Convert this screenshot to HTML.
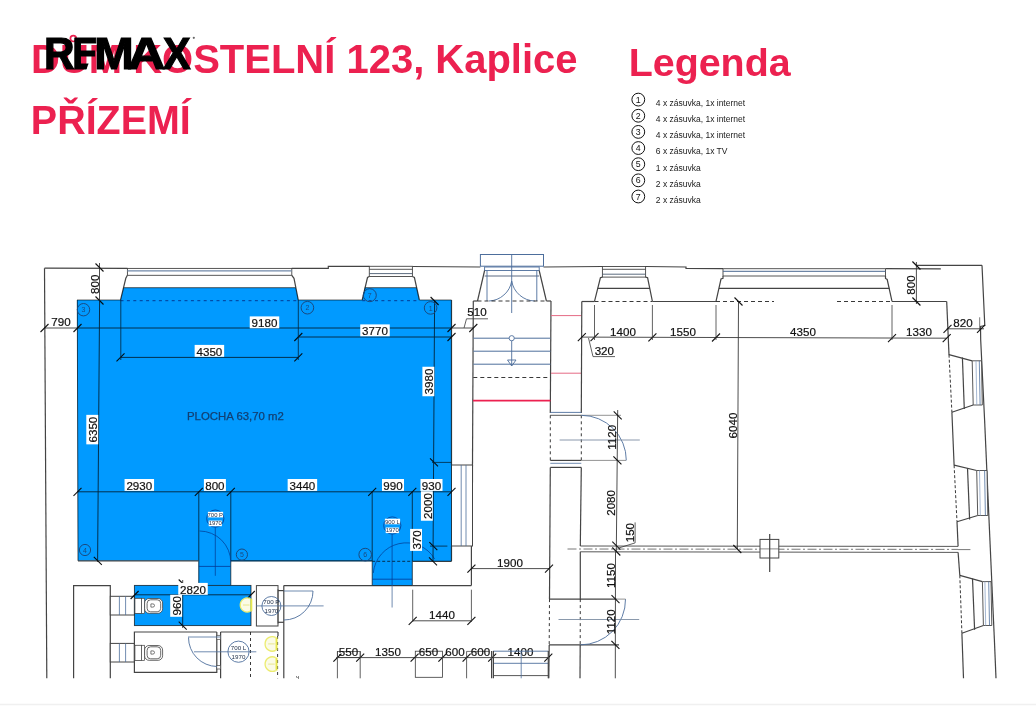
<!DOCTYPE html>
<html><head><meta charset="utf-8"><style>
html,body{margin:0;padding:0;background:#fff;}
svg{display:block;font-family:"Liberation Sans",sans-serif;}
</style></head><body>
<svg width="1036" height="708" viewBox="0 0 1036 708">
<rect width="1036" height="708" fill="#fff"/>
<text transform="translate(31.1,72.8) scale(0.973,1)" font-size="41.1" font-weight="bold" fill="#ec2150">DUM KOSTELNÍ 123, Kaplice</text>
<circle cx="73.3" cy="38.6" r="2.9" fill="none" stroke="#ec2150" stroke-width="1.7"/>
<text transform="translate(30.84,134) scale(0.972,1)" font-size="40.6" font-weight="bold" fill="#ec2150">PŘÍZEMÍ</text>
<text x="628.7" y="76.1" font-size="39.4" font-weight="bold" fill="#ec2150">Legenda</text>
<defs><clipPath id="ec"><polygon points="60,30 110,30 110,58.6 90.2,58.6 85.6,72 60,72"/></clipPath></defs>
<g><text transform="translate(44.0,69.0) scale(0.96,1)" font-size="44" font-weight="bold" fill="#000" stroke="#000" stroke-width="1.2">R</text></g>
<g clip-path="url(#ec)"><text transform="translate(72.36,69.0) scale(0.88,1)" font-size="44" font-weight="bold" fill="#000" stroke="#000" stroke-width="1.2">E</text></g>
<g><text transform="translate(94.37,69.0) scale(1.077,1)" font-size="44" font-weight="bold" fill="#000" stroke="#000" stroke-width="1.2">M</text></g>
<g><text transform="translate(127.4,69.0) scale(1.19,1)" font-size="44" font-weight="bold" fill="#000" stroke="#000" stroke-width="1.2">A</text></g>
<g><text transform="translate(162.96,69.0) scale(0.94,1)" font-size="44" font-weight="bold" fill="#000" stroke="#000" stroke-width="1.2">X</text></g>
<circle cx="193.8" cy="37.8" r="1.1" fill="#666"/>
<circle cx="638.3" cy="99.60" r="6.4" stroke="#111" stroke-width="1" fill="none"/>
<text x="638.3" y="102.70" font-size="8.8" fill="#111" text-anchor="middle">1</text>
<text x="655.8" y="105.90" font-size="8.5" fill="#1a1a1a">4 x zásuvka, 1x internet</text>
<circle cx="638.3" cy="115.75" r="6.4" stroke="#111" stroke-width="1" fill="none"/>
<text x="638.3" y="118.85" font-size="8.8" fill="#111" text-anchor="middle">2</text>
<text x="655.8" y="122.05" font-size="8.5" fill="#1a1a1a">4 x zásuvka, 1x internet</text>
<circle cx="638.3" cy="131.90" r="6.4" stroke="#111" stroke-width="1" fill="none"/>
<text x="638.3" y="135.00" font-size="8.8" fill="#111" text-anchor="middle">3</text>
<text x="655.8" y="138.20" font-size="8.5" fill="#1a1a1a">4 x zásuvka, 1x internet</text>
<circle cx="638.3" cy="148.05" r="6.4" stroke="#111" stroke-width="1" fill="none"/>
<text x="638.3" y="151.15" font-size="8.8" fill="#111" text-anchor="middle">4</text>
<text x="655.8" y="154.35" font-size="8.5" fill="#1a1a1a">6 x zásuvka, 1x TV</text>
<circle cx="638.3" cy="164.20" r="6.4" stroke="#111" stroke-width="1" fill="none"/>
<text x="638.3" y="167.30" font-size="8.8" fill="#111" text-anchor="middle">5</text>
<text x="655.8" y="170.50" font-size="8.5" fill="#1a1a1a">1 x zásuvka</text>
<circle cx="638.3" cy="180.35" r="6.4" stroke="#111" stroke-width="1" fill="none"/>
<text x="638.3" y="183.45" font-size="8.8" fill="#111" text-anchor="middle">6</text>
<text x="655.8" y="186.65" font-size="8.5" fill="#1a1a1a">2 x zásuvka</text>
<circle cx="638.3" cy="196.50" r="6.4" stroke="#111" stroke-width="1" fill="none"/>
<text x="638.3" y="199.60" font-size="8.8" fill="#111" text-anchor="middle">7</text>
<text x="655.8" y="202.80" font-size="8.5" fill="#1a1a1a">2 x zásuvka</text>
<g>
<polyline points="44.5,268.2 127.4,268.4" stroke="#444" stroke-width="1.2" fill="none" />
<polyline points="291.8,268.4 328.3,268.3 328.3,266.4 369.3,266.3" stroke="#444" stroke-width="1.2" fill="none" />
<polyline points="412.4,266.5 480.4,267" stroke="#444" stroke-width="1.2" fill="none" />
<polyline points="543.5,267 602.4,266.5" stroke="#444" stroke-width="1.2" fill="none" />
<polyline points="645.6,266.5 686,267 686,268.5 723,268.7" stroke="#444" stroke-width="1.2" fill="none" />
<polyline points="885.5,268.7 940.8,268.9" stroke="#444" stroke-width="1.2" fill="none" />
<line x1="44.5" y1="268.2" x2="46.8" y2="678.3" stroke="#444" stroke-width="1.2" />
<rect x="127.4" y="268.4" width="164.4" height="6.9" fill="#fff" stroke="#444" stroke-width="0.9"/>
<line x1="127.4" y1="270.9" x2="291.8" y2="270.9" stroke="#7088a8" stroke-width="1.4" />
<rect x="369.3" y="266.3" width="43.1" height="10.2" fill="#fff" stroke="#444" stroke-width="0.9"/>
<line x1="369.3" y1="269.3" x2="412.4" y2="269.3" stroke="#444" stroke-width="0.9" />
<line x1="369.3" y1="273.6" x2="412.4" y2="273.6" stroke="#4a5a70" stroke-width="0.9" />
<rect x="602.4" y="266.5" width="43.2" height="10.6" fill="#fff" stroke="#444" stroke-width="0.9"/>
<line x1="602.4" y1="269.3" x2="645.6" y2="269.3" stroke="#444" stroke-width="0.9" />
<line x1="602.4" y1="274.2" x2="645.6" y2="274.2" stroke="#4a5a70" stroke-width="0.9" />
<rect x="723" y="268.7" width="162.5" height="7.3" fill="#fff" stroke="#444" stroke-width="0.9"/>
<line x1="723" y1="271.3" x2="885.5" y2="271.3" stroke="#4a6890" stroke-width="1.0" />
<polyline points="127.4,275.3 125.8,278.3 120.5,300.2" stroke="#444" stroke-width="1.2" fill="none" />
<polyline points="291.8,275.3 294,278.3 298.3,300.2" stroke="#444" stroke-width="1.2" fill="none" />
<polyline points="369.3,276.5 367.5,277.5 362.2,300" stroke="#444" stroke-width="1.2" fill="none" />
<polyline points="412.4,276.5 414.4,277.5 419.4,300" stroke="#444" stroke-width="1.2" fill="none" />
<polyline points="602.4,277.1 600.4,277.8 594.5,301.3" stroke="#444" stroke-width="1.2" fill="none" />
<polyline points="645.6,277.1 647.6,277.8 652.4,301.3" stroke="#444" stroke-width="1.2" fill="none" />
<polyline points="723,276 723,278.3 721,279 716,301.3" stroke="#444" stroke-width="1.2" fill="none" />
<polyline points="885.5,276 885.5,278.5 887.2,279.5 892,301.3" stroke="#444" stroke-width="1.2" fill="none" />
<line x1="597.5" y1="288.3" x2="650" y2="288.3" stroke="#444" stroke-width="1.2" />
<line x1="719" y1="288.3" x2="889.5" y2="288.3" stroke="#444" stroke-width="1.2" />
<line x1="120.5" y1="300.7" x2="298.3" y2="300.7" stroke="#1a4f8a" stroke-width="0.9" stroke-dasharray="3,3.4"/>
<line x1="362.2" y1="300.7" x2="419.4" y2="300.7" stroke="#1a4f8a" stroke-width="0.9" stroke-dasharray="3,3.4"/>
<line x1="123.5" y1="287.7" x2="295.8" y2="287.7" stroke="#333" stroke-width="0.8" />
<line x1="364.8" y1="287.7" x2="416.7" y2="287.7" stroke="#333" stroke-width="0.8" />
<line x1="594.5" y1="301.5" x2="652.4" y2="301.5" stroke="#222" stroke-width="0.9" stroke-dasharray="4,3"/>
<line x1="716" y1="301.5" x2="774" y2="301.5" stroke="#222" stroke-width="0.9" stroke-dasharray="4,3"/>
<line x1="837" y1="301.5" x2="892" y2="301.5" stroke="#222" stroke-width="0.9" stroke-dasharray="4,3"/>
<line x1="298.3" y1="300" x2="362.2" y2="300" stroke="#444" stroke-width="0.8" />
<line x1="419.4" y1="300" x2="451.5" y2="300" stroke="#444" stroke-width="0.8" />
<line x1="77" y1="300" x2="120.5" y2="300" stroke="#444" stroke-width="0.8" />
<line x1="77.3" y1="300" x2="78" y2="560.8" stroke="#444" stroke-width="0.9" />
<line x1="451.5" y1="300" x2="451.5" y2="465" stroke="#444" stroke-width="1.2" />
<line x1="78" y1="560.8" x2="198.5" y2="560.8" stroke="#444" stroke-width="1.2" />
<line x1="230.8" y1="560.8" x2="372.2" y2="560.8" stroke="#444" stroke-width="1.2" />
<line x1="412.3" y1="561.3" x2="451.5" y2="561.3" stroke="#444" stroke-width="1.2" />
<line x1="451.5" y1="546" x2="451.5" y2="561.3" stroke="#444" stroke-width="1.2" />
<rect x="480.4" y="254.5" width="63.1" height="11.7" fill="#fff" stroke="#4d6e9c" stroke-width="1"/>
<rect x="484.6" y="267" width="54.6" height="3.5" fill="#fff" stroke="#4d6e9c" stroke-width="0.9"/>
<line x1="484.6" y1="276" x2="539.2" y2="276" stroke="#4a5a75" stroke-width="0.9" />
<line x1="487" y1="270.5" x2="487" y2="301" stroke="#4d6e9c" stroke-width="0.9" />
<line x1="536.8" y1="270.5" x2="536.8" y2="301" stroke="#4d6e9c" stroke-width="0.9" />
<line x1="511.7" y1="254.5" x2="511.7" y2="313" stroke="#4d6e9c" stroke-width="0.9" />
<path d="M489,301 A24,24 0 0 0 511.7,281" stroke="#4d6e9c" stroke-width="0.9" fill="none" />
<path d="M534.8,301 A24,24 0 0 1 511.7,281" stroke="#4d6e9c" stroke-width="0.9" fill="none" />
<line x1="484.6" y1="270.5" x2="477.5" y2="301" stroke="#444" stroke-width="1.2" />
<line x1="539.2" y1="270.5" x2="546.4" y2="301" stroke="#444" stroke-width="1.2" />
<line x1="477.5" y1="301" x2="546.4" y2="301" stroke="#222" stroke-width="0.9" stroke-dasharray="4,3"/>
<line x1="473.3" y1="301" x2="477.5" y2="301" stroke="#444" stroke-width="1.2" />
<line x1="546.4" y1="301" x2="551" y2="301" stroke="#444" stroke-width="1.2" />
<line x1="473.3" y1="301" x2="472.5" y2="465" stroke="#444" stroke-width="1.2" />
<line x1="551" y1="301" x2="550.3" y2="413" stroke="#444" stroke-width="1.2" />
<line x1="473.3" y1="338.2" x2="550.5" y2="338.2" stroke="#4d6e9c" stroke-width="1" />
<line x1="473.3" y1="351.2" x2="550.5" y2="351.2" stroke="#4d6e9c" stroke-width="1" />
<line x1="473.3" y1="364.2" x2="550.5" y2="364.2" stroke="#4d6e9c" stroke-width="1" />
<circle cx="511.7" cy="338.2" r="2.6" stroke="#4d6e9c" stroke-width="0.9" fill="#fff"/>
<line x1="511.7" y1="340.8" x2="511.7" y2="366" stroke="#4d6e9c" stroke-width="0.9" />
<polyline points="507.5,360 516,360 511.7,366 507.5,360" stroke="#4d6e9c" stroke-width="0.9" fill="none" />
<line x1="473.3" y1="377.5" x2="550.5" y2="377.5" stroke="#222" stroke-width="0.9" stroke-dasharray="4,3"/>
<line x1="473" y1="400.6" x2="550.5" y2="400.6" stroke="#ec2150" stroke-width="1.6" />
<line x1="551" y1="315.6" x2="581.5" y2="315.6" stroke="#e56a85" stroke-width="1" />
<line x1="551" y1="373.2" x2="581.5" y2="373.2" stroke="#e56a85" stroke-width="1" />
<line x1="472.5" y1="465" x2="472.2" y2="546" stroke="#444" stroke-width="1.2" />
<line x1="581.8" y1="301.5" x2="581.3" y2="413" stroke="#444" stroke-width="1.2" />
<line x1="550.3" y1="412.4" x2="581.3" y2="412.4" stroke="#4d6e9c" stroke-width="0.9" />
<line x1="550.3" y1="415.3" x2="581.3" y2="415.3" stroke="#444" stroke-width="0.9" />
<line x1="550.3" y1="415.3" x2="550.3" y2="460.4" stroke="#222" stroke-width="0.9" stroke-dasharray="3,3"/>
<line x1="581.3" y1="415.3" x2="581.3" y2="460.4" stroke="#222" stroke-width="0.9" stroke-dasharray="3,3"/>
<line x1="550.3" y1="460.4" x2="581.3" y2="460.4" stroke="#444" stroke-width="1.2" />
<line x1="550.3" y1="463.3" x2="581.3" y2="463.3" stroke="#4d6e9c" stroke-width="0.8" />
<line x1="550.3" y1="467.4" x2="581.3" y2="467.4" stroke="#444" stroke-width="1.2" />
<line x1="581.3" y1="415.3" x2="621" y2="415.3" stroke="#777" stroke-width="0.8" />
<line x1="581.3" y1="460.4" x2="626" y2="460.4" stroke="#777" stroke-width="0.8" />
<path d="M581.3,415.3 A45,45 0 0 1 626.3,460.4" stroke="#4d6e9c" stroke-width="0.9" fill="none" />
<line x1="559.6" y1="440" x2="639.8" y2="440" stroke="#7d8da3" stroke-width="0.9" />
<line x1="550.3" y1="467.4" x2="549.5" y2="599.1" stroke="#444" stroke-width="1.2" />
<line x1="581.3" y1="467.4" x2="580.3" y2="546" stroke="#444" stroke-width="1.2" />
<line x1="581.8" y1="301.5" x2="594.5" y2="301.5" stroke="#444" stroke-width="1.2" />
<line x1="652.4" y1="301.5" x2="716" y2="301.5" stroke="#444" stroke-width="1.2" />
<line x1="892" y1="301.5" x2="946.7" y2="301.5" stroke="#444" stroke-width="1.2" />
<line x1="946.7" y1="301.5" x2="949" y2="354.9" stroke="#444" stroke-width="1.2" />
<line x1="580.3" y1="546" x2="958.1" y2="546.4" stroke="#444" stroke-width="0.9" />
<line x1="580.3" y1="551.8" x2="958.1" y2="552.4" stroke="#444" stroke-width="0.9" />
<line x1="567.5" y1="549" x2="958" y2="549.4" stroke="#555" stroke-width="0.8" stroke-dasharray="9,2.5,2,2.5"/>
<line x1="958" y1="549.6" x2="970.4" y2="549.6" stroke="#555" stroke-width="0.8" />
<rect x="760" y="539.4" width="18.8" height="18.6" fill="#fff" stroke="#444" stroke-width="1" />
<line x1="760" y1="548.9" x2="778.8" y2="548.9" stroke="#555" stroke-width="0.7" />
<line x1="769.7" y1="534" x2="769.7" y2="572" stroke="#444" stroke-width="1.2" />
<line x1="916.4" y1="265.3" x2="982" y2="265.3" stroke="#444" stroke-width="1.2" />
<polyline points="982,265.3 984.8,325.6 980.5,326.5 980.7,340 984.6,420" stroke="#444" stroke-width="1.2" fill="none" />
<line x1="984.6" y1="420" x2="989.7" y2="535" stroke="#444" stroke-width="1.2" />
<line x1="989.7" y1="535" x2="994.4" y2="640" stroke="#444" stroke-width="1.2" />
<line x1="994.4" y1="640" x2="996" y2="678.3" stroke="#444" stroke-width="1.2" />
<line x1="979.7" y1="317.3" x2="979.7" y2="330" stroke="#555" stroke-width="0.8" />
<line x1="949" y1="354.7" x2="949" y2="354.7" stroke="#444" stroke-width="1.2" />
<line x1="949" y1="354.7" x2="972.2" y2="360.8" stroke="#444" stroke-width="1.2" />
<line x1="951.9" y1="412.3" x2="973.2" y2="405" stroke="#444" stroke-width="1.2" />
<polygon points="972.2,360.8 981.5,360.8 982.3,405 973.2,405" fill="#fff" stroke="#444" stroke-width="0.9"/>
<line x1="976" y1="360.8" x2="976.8" y2="405" stroke="#8fa6c6" stroke-width="0.8" />
<line x1="979.3" y1="360.8" x2="980.1" y2="405" stroke="#4d6e9c" stroke-width="0.8" />
<line x1="962.4" y1="357.5" x2="964.3" y2="408.9" stroke="#444" stroke-width="1.2" />
<line x1="949" y1="354.7" x2="951.9" y2="412.3" stroke="#222" stroke-width="0.9" stroke-dasharray="3,2"/>
<line x1="951.9" y1="412.3" x2="954.1" y2="465.2" stroke="#444" stroke-width="1.2" />
<line x1="954.1" y1="465.2" x2="976.7" y2="470.5" stroke="#444" stroke-width="1.2" />
<line x1="957" y1="521.7" x2="977.7" y2="515.5" stroke="#444" stroke-width="1.2" />
<polygon points="976.7,470.5 987,470.5 987.8,515.5 977.7,515.5" fill="#fff" stroke="#444" stroke-width="0.9"/>
<line x1="979.5" y1="470.5" x2="980.3" y2="515.5" stroke="#8fa6c6" stroke-width="0.8" />
<line x1="984.6" y1="470.5" x2="985.4" y2="515.5" stroke="#4d6e9c" stroke-width="0.8" />
<line x1="967.5" y1="468" x2="969.6" y2="519.4" stroke="#444" stroke-width="1.2" />
<line x1="954.1" y1="465.2" x2="957" y2="521.7" stroke="#222" stroke-width="0.9" stroke-dasharray="3,2"/>
<line x1="957" y1="521.7" x2="958.1" y2="546.4" stroke="#444" stroke-width="1.2" />
<line x1="958.1" y1="552.4" x2="959.8" y2="575.3" stroke="#444" stroke-width="1.2" />
<line x1="959.8" y1="575.3" x2="982.4" y2="581.6" stroke="#444" stroke-width="1.2" />
<line x1="961.9" y1="633.2" x2="983.4" y2="625.5" stroke="#444" stroke-width="1.2" />
<polygon points="982.4,581.6 991,581.6 991.8,625.5 983.4,625.5" fill="#fff" stroke="#444" stroke-width="0.9"/>
<line x1="984.9" y1="581.6" x2="985.7" y2="625.5" stroke="#8fa6c6" stroke-width="0.8" />
<line x1="988.7" y1="581.6" x2="989.5" y2="625.5" stroke="#4d6e9c" stroke-width="0.8" />
<line x1="972.5" y1="578.5" x2="974.6" y2="629.7" stroke="#444" stroke-width="1.2" />
<line x1="959.8" y1="575.3" x2="961.9" y2="633.2" stroke="#222" stroke-width="0.9" stroke-dasharray="3,2"/>
<line x1="961.9" y1="633.2" x2="963.5" y2="678.3" stroke="#444" stroke-width="1.2" />
<line x1="580.3" y1="551.8" x2="580.3" y2="599.1" stroke="#444" stroke-width="1.2" />
<line x1="549.5" y1="599.1" x2="616.7" y2="599.1" stroke="#444" stroke-width="1.2" />
<line x1="549" y1="644.9" x2="619" y2="644.9" stroke="#444" stroke-width="1.2" />
<line x1="549.5" y1="599.1" x2="549.2" y2="644.9" stroke="#222" stroke-width="0.9" stroke-dasharray="3,3"/>
<line x1="580.3" y1="599.1" x2="580.2" y2="644.9" stroke="#222" stroke-width="0.9" stroke-dasharray="3,3"/>
<path d="M625.5,599.1 A45.3,45.3 0 0 1 580.2,644.9" stroke="#4d6e9c" stroke-width="0.9" fill="none" />
<line x1="616.7" y1="599.1" x2="625.5" y2="599.1" stroke="#777" stroke-width="0.8" />
<line x1="558.5" y1="619.5" x2="639.2" y2="619.5" stroke="#7d8da3" stroke-width="0.9" />
<line x1="549.2" y1="644.9" x2="548.8" y2="678.3" stroke="#444" stroke-width="1.2" />
<line x1="580.2" y1="644.9" x2="580" y2="678.3" stroke="#444" stroke-width="1.2" />
<rect x="451.5" y="465" width="21" height="81" fill="#fff" stroke="#444" stroke-width="1" />
<line x1="461.2" y1="465" x2="461.2" y2="546" stroke="#4d6e9c" stroke-width="0.8" />
<line x1="466" y1="465" x2="466" y2="546" stroke="#4d6e9c" stroke-width="0.8" />
<line x1="283.8" y1="585.6" x2="471.4" y2="585.6" stroke="#444" stroke-width="1.2" />
<line x1="471.4" y1="546" x2="471.4" y2="585.6" stroke="#444" stroke-width="1.2" />
<line x1="283.8" y1="585.6" x2="283.8" y2="678.3" stroke="#444" stroke-width="1.2" />
<polyline points="73.6,678.3 73.6,585.6 110.3,585.6 110.3,678.3" stroke="#444" stroke-width="1.2" fill="none" />
<rect x="110.3" y="596.3" width="24.1" height="18.7" fill="#fff" stroke="#444" stroke-width="1" />
<line x1="119.4" y1="596.3" x2="119.4" y2="615" stroke="#4d6e9c" stroke-width="0.8" />
<line x1="125.6" y1="596.3" x2="125.6" y2="615" stroke="#4d6e9c" stroke-width="0.8" />
<rect x="110.3" y="643.4" width="24.1" height="18.6" fill="#fff" stroke="#444" stroke-width="1" />
<line x1="119.4" y1="643.4" x2="119.4" y2="662" stroke="#4d6e9c" stroke-width="0.8" />
<line x1="125.6" y1="643.4" x2="125.6" y2="662" stroke="#4d6e9c" stroke-width="0.8" />
<rect x="134.4" y="585.4" width="116.6" height="40.2" fill="none" stroke="#444" stroke-width="0.9" />
<polyline points="216.8,632 134.4,632 134.4,672.3 216.8,672.3 216.8,632" stroke="#444" stroke-width="1.2" fill="none" />
<line x1="220.6" y1="632" x2="220.6" y2="678.3" stroke="#444" stroke-width="1.2" />
<line x1="220.6" y1="632" x2="278" y2="632" stroke="#444" stroke-width="1.2" />
<line x1="277.6" y1="636" x2="277.6" y2="678.3" stroke="#222" stroke-width="0.9" stroke-dasharray="3,3"/>
<line x1="278" y1="632" x2="278" y2="636" stroke="#444" stroke-width="1.2" />
<line x1="250.5" y1="632" x2="250.5" y2="678.3" stroke="#222" stroke-width="0.9" stroke-dasharray="3,3"/>
<rect x="216.8" y="635.3" width="3.8" height="4" fill="#fff" stroke="#444" stroke-width="0.7" />
<rect x="216.8" y="665.5" width="3.8" height="3.5" fill="#fff" stroke="#444" stroke-width="0.7" />
<rect x="134.9" y="645.3" width="6.6" height="15.1" fill="#fff" stroke="#444" stroke-width="0.8" />
<rect x="141.5" y="645.3" width="3.1" height="15.1" fill="#fff" stroke="#444" stroke-width="0.7" />
<rect x="144.6" y="645.5" width="18" height="14.8" rx="4.5" fill="#fff" stroke="#444" stroke-width="0.8"/>
<rect x="147.1" y="646.8" width="13.6" height="12" rx="3.5" fill="none" stroke="#444" stroke-width="0.8"/>
<path d="M150.9,650.9 h2 a1.6,1.6 0 0 1 0,3.2 h-2 z" fill="none" stroke="#444" stroke-width="0.7"/>
<line x1="188" y1="637" x2="220.6" y2="637" stroke="#4d6e9c" stroke-width="0.8" />
<path d="M188.5,637.5 A29,29 0 0 0 217,666.5" stroke="#4d6e9c" stroke-width="0.9" fill="none" />
<line x1="194" y1="651.8" x2="256.3" y2="651.8" stroke="#4d6e9c" stroke-width="0.8" />
<path d="M275.7,637.4 A7.3,7.3 0 1 0 275.7,650.4" fill="#fbfbe6" stroke="#ecec70" stroke-width="1.3"/>
<rect x="275.5" y="637.4" width="2" height="13" fill="#e8e850"/>
<line x1="268.2" y1="643.9" x2="274.7" y2="643.9" stroke="#e2e27a" stroke-width="0.8" />
<path d="M275.7,657.6 A7.3,7.3 0 1 0 275.7,670.6" fill="#fbfbe6" stroke="#ecec70" stroke-width="1.3"/>
<rect x="275.5" y="657.6" width="2" height="13" fill="#e8e850"/>
<line x1="268.2" y1="664.1" x2="274.7" y2="664.1" stroke="#e2e27a" stroke-width="0.8" />
<rect x="256.4" y="585.6" width="21.6" height="40.4" fill="#fff" stroke="#444" stroke-width="1" />
<line x1="278" y1="590.6" x2="283.8" y2="590.6" stroke="#444" stroke-width="1.2" />
<line x1="278" y1="622.3" x2="283.8" y2="622.3" stroke="#444" stroke-width="1.2" />
<line x1="278" y1="589.3" x2="278" y2="623.5" stroke="#444" stroke-width="0.9" />
<line x1="283.8" y1="591" x2="313" y2="591" stroke="#4d6e9c" stroke-width="0.8" />
<path d="M313,591 A29,29 0 0 1 283.8,620" stroke="#4d6e9c" stroke-width="0.9" fill="none" />
<line x1="256" y1="605.9" x2="323.6" y2="605.9" stroke="#4d6e9c" stroke-width="0.8" />
<circle cx="271.4" cy="606" r="9.5" stroke="#4d6e9c" stroke-width="0.9" fill="none"/>
<circle cx="238.5" cy="651.7" r="10.6" stroke="#4d6e9c" stroke-width="0.9" fill="none"/>
<circle cx="215.3" cy="518.6" r="8.6" stroke="#4d6e9c" stroke-width="0.9" fill="none"/>
<circle cx="392.3" cy="525.5" r="8.6" stroke="#4d6e9c" stroke-width="0.9" fill="none"/>
<line x1="198.8" y1="491.5" x2="198.8" y2="585.4" stroke="#444" stroke-width="0.9" />
<line x1="230.8" y1="491.5" x2="230.8" y2="585.4" stroke="#444" stroke-width="0.9" />
<line x1="215.3" y1="527.2" x2="215.3" y2="575.8" stroke="#4d6e9c" stroke-width="0.8" />
<path d="M199.5,531 A31.3,31.3 0 0 1 230.8,562.3" stroke="#4d6e9c" stroke-width="0.8" fill="none" />
<line x1="198.8" y1="566.4" x2="230.8" y2="566.4" stroke="#2b5f97" stroke-width="0.8" />
<line x1="372.2" y1="491.5" x2="372.2" y2="585.4" stroke="#444" stroke-width="0.9" />
<line x1="412.3" y1="491.5" x2="412.3" y2="585.4" stroke="#444" stroke-width="0.9" />
<line x1="392.1" y1="534" x2="392.1" y2="607.5" stroke="#4d6e9c" stroke-width="0.8" />
<path d="M373.3,573 A33.1,33.1 0 0 1 434.7,559" stroke="#4d6e9c" stroke-width="0.8" fill="none" />
<line x1="372.2" y1="561.3" x2="412.3" y2="561.3" stroke="#222" stroke-width="0.8" stroke-dasharray="3,2"/>
<line x1="372.2" y1="579.2" x2="412.3" y2="579.2" stroke="#2b5f97" stroke-width="0.8" />
<line x1="99.5" y1="263" x2="99.5" y2="300" stroke="#3a3a3a" stroke-width="0.9" />
<line x1="95.5" y1="263.5" x2="103.5" y2="271.5" stroke="#111" stroke-width="1.1" />
<line x1="95.5" y1="296.5" x2="103.5" y2="304.5" stroke="#111" stroke-width="1.1" />
<line x1="44" y1="328" x2="473.3" y2="328" stroke="#3a3a3a" stroke-width="0.9" />
<line x1="40.5" y1="332" x2="48.5" y2="324" stroke="#111" stroke-width="1.1" />
<line x1="73.5" y1="332" x2="81.5" y2="324" stroke="#111" stroke-width="1.1" />
<line x1="447.5" y1="332" x2="455.5" y2="324" stroke="#111" stroke-width="1.1" />
<line x1="469.3" y1="332" x2="477.3" y2="324" stroke="#111" stroke-width="1.1" />
<text x="61" y="325.5" font-size="11.6" fill="#111" text-anchor="middle" font-weight="normal" stroke="#111" stroke-width="0.2">790</text>
<text x="477" y="315.6" font-size="11.6" fill="#111" text-anchor="middle" font-weight="normal" stroke="#111" stroke-width="0.2">510</text>
<polyline points="464,328 466.5,318.8 488,318.8" stroke="#3a3a3a" stroke-width="0.8" fill="none" />
<line x1="298.3" y1="337" x2="451.5" y2="337" stroke="#3a3a3a" stroke-width="0.9" />
<line x1="294.3" y1="341" x2="302.3" y2="333" stroke="#111" stroke-width="1.1" />
<line x1="447.5" y1="341" x2="455.5" y2="333" stroke="#111" stroke-width="1.1" />
<line x1="120.5" y1="357.4" x2="298.3" y2="357.4" stroke="#3a3a3a" stroke-width="0.9" />
<line x1="116.5" y1="361.4" x2="124.5" y2="353.4" stroke="#111" stroke-width="1.1" />
<line x1="294.3" y1="361.4" x2="302.3" y2="353.4" stroke="#111" stroke-width="1.1" />
<line x1="120.8" y1="300" x2="120.8" y2="360" stroke="#3a3a3a" stroke-width="0.8" />
<line x1="298.3" y1="300" x2="298.3" y2="360" stroke="#3a3a3a" stroke-width="0.8" />
<line x1="99.6" y1="300" x2="97.6" y2="562" stroke="#3a3a3a" stroke-width="0.9" />
<line x1="93.8" y1="556.8" x2="101.8" y2="564.8" stroke="#111" stroke-width="1.1" />
<line x1="434.6" y1="300" x2="433" y2="562" stroke="#3a3a3a" stroke-width="0.9" />
<line x1="430.6" y1="297" x2="438.6" y2="305" stroke="#111" stroke-width="1.1" />
<line x1="430" y1="458.4" x2="438" y2="466.4" stroke="#111" stroke-width="1.1" />
<line x1="429.3" y1="542.2" x2="437.3" y2="550.2" stroke="#111" stroke-width="1.1" />
<line x1="429" y1="557.3" x2="437" y2="565.3" stroke="#111" stroke-width="1.1" />
<line x1="432" y1="462.4" x2="451.5" y2="462.4" stroke="#3a3a3a" stroke-width="0.8" />
<line x1="430" y1="546.1" x2="447.4" y2="546.1" stroke="#3a3a3a" stroke-width="0.8" />
<line x1="77" y1="491.8" x2="451.5" y2="491.8" stroke="#3a3a3a" stroke-width="0.9" />
<line x1="73.5" y1="495.8" x2="81.5" y2="487.8" stroke="#111" stroke-width="1.1" />
<line x1="194.8" y1="495.8" x2="202.8" y2="487.8" stroke="#111" stroke-width="1.1" />
<line x1="226.8" y1="495.8" x2="234.8" y2="487.8" stroke="#111" stroke-width="1.1" />
<line x1="368.2" y1="495.8" x2="376.2" y2="487.8" stroke="#111" stroke-width="1.1" />
<line x1="408.3" y1="495.8" x2="416.3" y2="487.8" stroke="#111" stroke-width="1.1" />
<line x1="447.5" y1="495.8" x2="455.5" y2="487.8" stroke="#111" stroke-width="1.1" />
<line x1="134.4" y1="594.8" x2="251" y2="594.8" stroke="#3a3a3a" stroke-width="0.9" />
<line x1="130.6" y1="599" x2="138.6" y2="591" stroke="#111" stroke-width="1.1" />
<line x1="246.8" y1="599" x2="254.8" y2="591" stroke="#111" stroke-width="1.1" />
<line x1="182.7" y1="580" x2="182.7" y2="628" stroke="#3a3a3a" stroke-width="0.9" />
<line x1="178.7" y1="579.5" x2="186.7" y2="587.5" stroke="#111" stroke-width="1.1" />
<line x1="178.7" y1="621.6" x2="186.7" y2="629.6" stroke="#111" stroke-width="1.1" />
<line x1="581.8" y1="337.1" x2="946.7" y2="338.2" stroke="#3a3a3a" stroke-width="0.9" />
<line x1="577.8" y1="341.1" x2="585.8" y2="333.1" stroke="#111" stroke-width="1.1" />
<line x1="590.5" y1="341.14" x2="598.5" y2="333.14" stroke="#111" stroke-width="1.1" />
<line x1="648.4" y1="341.31" x2="656.4" y2="333.31" stroke="#111" stroke-width="1.1" />
<line x1="712" y1="341.5" x2="720" y2="333.5" stroke="#111" stroke-width="1.1" />
<line x1="888" y1="342.03" x2="896" y2="334.03" stroke="#111" stroke-width="1.1" />
<line x1="942.7" y1="342.2" x2="950.7" y2="334.2" stroke="#111" stroke-width="1.1" />
<line x1="594.5" y1="305" x2="594.5" y2="340" stroke="#3a3a3a" stroke-width="0.8" />
<line x1="652.4" y1="305" x2="652.4" y2="340" stroke="#3a3a3a" stroke-width="0.8" />
<line x1="716" y1="305" x2="716" y2="340" stroke="#3a3a3a" stroke-width="0.8" />
<line x1="892" y1="305" x2="892" y2="340" stroke="#3a3a3a" stroke-width="0.8" />
<text x="623" y="336.2" font-size="11.6" fill="#111" text-anchor="middle" font-weight="normal" stroke="#111" stroke-width="0.2">1400</text>
<text x="683" y="336.2" font-size="11.6" fill="#111" text-anchor="middle" font-weight="normal" stroke="#111" stroke-width="0.2">1550</text>
<text x="803" y="336.2" font-size="11.6" fill="#111" text-anchor="middle" font-weight="normal" stroke="#111" stroke-width="0.2">4350</text>
<text x="919" y="336.2" font-size="11.6" fill="#111" text-anchor="middle" font-weight="normal" stroke="#111" stroke-width="0.2">1330</text>
<text x="604.3" y="355" font-size="11.6" fill="#111" text-anchor="middle" font-weight="normal" stroke="#111" stroke-width="0.2">320</text>
<polyline points="588.5,338 593,356.6 615,356.6" stroke="#3a3a3a" stroke-width="0.8" fill="none" />
<line x1="946.7" y1="328.8" x2="984" y2="328.8" stroke="#3a3a3a" stroke-width="0.9" />
<line x1="943.5" y1="332.8" x2="951.5" y2="324.8" stroke="#111" stroke-width="1.1" />
<line x1="977" y1="332.8" x2="985" y2="324.8" stroke="#111" stroke-width="1.1" />
<text x="963" y="327" font-size="11.6" fill="#111" text-anchor="middle" font-weight="normal" stroke="#111" stroke-width="0.2">820</text>
<line x1="916.4" y1="262" x2="916.4" y2="304" stroke="#3a3a3a" stroke-width="0.9" />
<line x1="912.4" y1="261.5" x2="920.4" y2="269.5" stroke="#111" stroke-width="1.1" />
<line x1="912.4" y1="297.5" x2="920.4" y2="305.5" stroke="#111" stroke-width="1.1" />
<line x1="738.5" y1="301.5" x2="737.3" y2="549" stroke="#3a3a3a" stroke-width="0.9" />
<line x1="734.5" y1="297.5" x2="742.5" y2="305.5" stroke="#111" stroke-width="1.1" />
<line x1="733.3" y1="545" x2="741.3" y2="553" stroke="#111" stroke-width="1.1" />
<line x1="617.7" y1="410" x2="616.3" y2="552" stroke="#3a3a3a" stroke-width="0.9" />
<line x1="613.7" y1="411.3" x2="621.7" y2="419.3" stroke="#111" stroke-width="1.1" />
<line x1="613.4" y1="456.4" x2="621.4" y2="464.4" stroke="#111" stroke-width="1.1" />
<line x1="612.3" y1="541.6" x2="620.3" y2="549.6" stroke="#111" stroke-width="1.1" />
<line x1="612.3" y1="547.5" x2="620.3" y2="555.5" stroke="#111" stroke-width="1.1" />
<polyline points="618.7,548 635.1,542.9 635.1,522.4" stroke="#3a3a3a" stroke-width="0.8" fill="none" />
<line x1="615.5" y1="552" x2="615.3" y2="678.3" stroke="#3a3a3a" stroke-width="0.9" />
<line x1="611.5" y1="595.1" x2="619.5" y2="603.1" stroke="#111" stroke-width="1.1" />
<line x1="611.4" y1="640.9" x2="619.4" y2="648.9" stroke="#111" stroke-width="1.1" />
<line x1="471.4" y1="568.6" x2="549" y2="568.6" stroke="#3a3a3a" stroke-width="0.9" />
<line x1="467.4" y1="572.6" x2="475.4" y2="564.6" stroke="#111" stroke-width="1.1" />
<line x1="545" y1="572.6" x2="553" y2="564.6" stroke="#111" stroke-width="1.1" />
<text x="510" y="567" font-size="11.6" fill="#111" text-anchor="middle" font-weight="normal" stroke="#111" stroke-width="0.2">1900</text>
<line x1="412.7" y1="620.8" x2="471.4" y2="620.8" stroke="#3a3a3a" stroke-width="0.9" />
<line x1="408.7" y1="624.8" x2="416.7" y2="616.8" stroke="#111" stroke-width="1.1" />
<line x1="467.4" y1="624.8" x2="475.4" y2="616.8" stroke="#111" stroke-width="1.1" />
<line x1="412.7" y1="589.7" x2="412.7" y2="622" stroke="#3a3a3a" stroke-width="0.8" />
<line x1="471.4" y1="589.7" x2="471.4" y2="622" stroke="#3a3a3a" stroke-width="0.8" />
<text x="442" y="618.9" font-size="11.6" fill="#111" text-anchor="middle" font-weight="normal" stroke="#111" stroke-width="0.2">1440</text>
<line x1="336.2" y1="657.6" x2="549" y2="657.6" stroke="#3a3a3a" stroke-width="0.9" />
<line x1="333.4" y1="661.6" x2="341.4" y2="653.6" stroke="#111" stroke-width="1.1" />
<line x1="356.2" y1="661.6" x2="364.2" y2="653.6" stroke="#111" stroke-width="1.1" />
<line x1="410.6" y1="661.6" x2="418.6" y2="653.6" stroke="#111" stroke-width="1.1" />
<line x1="438.4" y1="661.6" x2="446.4" y2="653.6" stroke="#111" stroke-width="1.1" />
<line x1="462.6" y1="661.6" x2="470.6" y2="653.6" stroke="#111" stroke-width="1.1" />
<line x1="488.2" y1="661.6" x2="496.2" y2="653.6" stroke="#111" stroke-width="1.1" />
<line x1="544.3" y1="661.6" x2="552.3" y2="653.6" stroke="#111" stroke-width="1.1" />
<line x1="337.4" y1="651.4" x2="337.4" y2="678.3" stroke="#3a3a3a" stroke-width="0.8" />
<line x1="360.2" y1="651.4" x2="360.2" y2="678.3" stroke="#3a3a3a" stroke-width="0.8" />
<line x1="466.6" y1="651.4" x2="466.6" y2="678.3" stroke="#3a3a3a" stroke-width="0.8" />
<rect x="337.4" y="651.4" width="22.8" height="6.2" fill="none" stroke="#3a3a3a" stroke-width="0.7" />
<rect x="415.3" y="651.2" width="27.1" height="26.1" fill="none" stroke="#3a3a3a" stroke-width="0.8" />
<line x1="466.6" y1="651.4" x2="489" y2="651.4" stroke="#3a3a3a" stroke-width="0.7" />
<text x="348.5" y="655.8" font-size="11.6" fill="#111" text-anchor="middle" font-weight="normal" stroke="#111" stroke-width="0.2">550</text>
<text x="388" y="655.8" font-size="11.6" fill="#111" text-anchor="middle" font-weight="normal" stroke="#111" stroke-width="0.2">1350</text>
<text x="428.5" y="655.8" font-size="11.6" fill="#111" text-anchor="middle" font-weight="normal" stroke="#111" stroke-width="0.2">650</text>
<text x="455" y="655.8" font-size="11.6" fill="#111" text-anchor="middle" font-weight="normal" stroke="#111" stroke-width="0.2">600</text>
<text x="480.5" y="655.8" font-size="11.6" fill="#111" text-anchor="middle" font-weight="normal" stroke="#111" stroke-width="0.2">600</text>
<text x="520.5" y="655.8" font-size="11.6" fill="#111" text-anchor="middle" font-weight="normal" stroke="#111" stroke-width="0.2">1400</text>
<line x1="493" y1="651.2" x2="548.3" y2="651.2" stroke="#4d6e9c" stroke-width="0.9" />
<line x1="493" y1="663.3" x2="548.3" y2="663.3" stroke="#4d6e9c" stroke-width="0.9" />
<line x1="493" y1="675.6" x2="548.3" y2="675.6" stroke="#444" stroke-width="0.9" />
<line x1="521.2" y1="651" x2="521.2" y2="678.3" stroke="#4d6e9c" stroke-width="0.8" />
<line x1="491.6" y1="651" x2="491.6" y2="678.3" stroke="#444" stroke-width="1.2" />
<line x1="493.4" y1="651" x2="493.4" y2="678.3" stroke="#444" stroke-width="1.2" />
<line x1="548.3" y1="651" x2="548.3" y2="678.3" stroke="#444" stroke-width="1.2" />
<text x="296" y="679" font-size="6" fill="#222">ч</text>
<g style="mix-blend-mode:multiply"><polygon points="77,300 120.5,300 123.5,287.7 295.8,287.7 298.3,300 362.2,300 364.8,287.7 416.7,287.7 419.4,300 451.5,300 451.5,561.3 412.3,561.3 412.3,585.4 372.2,585.4 372.2,561.3 230.8,561.3 230.8,585.4 198.5,585.4 198.5,560.5 78,560.5" fill="#019aff" stroke="none" stroke-width="1" />
<rect x="134.4" y="585.4" width="116.6" height="40.2" fill="#019aff" stroke="none" stroke-width="0" /></g>
<rect x="134.9" y="598.3" width="6.6" height="15.1" fill="#fff" stroke="#444" stroke-width="0.8" />
<rect x="141.5" y="598.3" width="3.1" height="15.1" fill="#fff" stroke="#444" stroke-width="0.7" />
<rect x="144.6" y="598.5" width="18" height="14.8" rx="4.5" fill="#fff" stroke="#444" stroke-width="0.8"/>
<rect x="147.1" y="599.8" width="13.6" height="12" rx="3.5" fill="none" stroke="#444" stroke-width="0.8"/>
<path d="M150.9,603.9 h2 a1.6,1.6 0 0 1 0,3.2 h-2 z" fill="none" stroke="#444" stroke-width="0.7"/>
<path d="M250.5,598.8 A7,7 0 1 0 250.5,611.2" fill="#fbfbe6" stroke="#ecec70" stroke-width="1.3"/>
<rect x="250.3" y="598.8" width="2" height="12.4" fill="#e8e850"/>
<line x1="243" y1="605" x2="249.5" y2="605" stroke="#e2e27a" stroke-width="0.8" />
<text x="271.4" y="604.1" font-size="6.2" fill="#1a2a44" text-anchor="middle" font-weight="normal" >700 P</text>
<text x="271.4" y="612.9" font-size="6.2" fill="#1a2a44" text-anchor="middle" font-weight="normal" >1970</text>
<text x="238.5" y="649.8" font-size="6.2" fill="#1a2a44" text-anchor="middle" font-weight="normal" >700 L</text>
<text x="238.5" y="658.6" font-size="6.2" fill="#1a2a44" text-anchor="middle" font-weight="normal" >1970</text>
<rect x="207.9" y="511.8" width="15.2" height="5.6" fill="#fff"/>
<rect x="208.7" y="520.6" width="13.2" height="5.6" fill="#fff"/>
<text x="215.3" y="516.6" font-size="5.9" fill="#1a2a44" text-anchor="middle" font-weight="normal" >700 P</text>
<text x="215.3" y="525.4" font-size="5.9" fill="#1a2a44" text-anchor="middle" font-weight="normal" >1970</text>
<rect x="384.9" y="518.7" width="15.2" height="5.6" fill="#fff"/>
<rect x="385.7" y="527.5" width="13.2" height="5.6" fill="#fff"/>
<text x="392.3" y="523.5" font-size="5.9" fill="#1a2a44" text-anchor="middle" font-weight="normal" >900 L</text>
<text x="392.3" y="532.3" font-size="5.9" fill="#1a2a44" text-anchor="middle" font-weight="normal" >1970</text>
<text x="94.5" y="288.6" font-size="11.6" fill="#111" stroke="#111" stroke-width="0.2" text-anchor="middle" transform="rotate(-90 94.5 284.3)">800</text>
<rect x="249.75" y="316.4" width="29.5" height="11.9" fill="#fff"/>
<text x="264.5" y="327.3" font-size="11.6" fill="#111" text-anchor="middle" font-weight="normal" stroke="#111" stroke-width="0.2">9180</text>
<rect x="360.25" y="324.4" width="29.5" height="11.9" fill="#fff"/>
<text x="375" y="335.3" font-size="11.6" fill="#111" text-anchor="middle" font-weight="normal" stroke="#111" stroke-width="0.2">3770</text>
<rect x="194.65" y="344.9" width="29.5" height="11.9" fill="#fff"/>
<text x="209.4" y="355.8" font-size="11.6" fill="#111" text-anchor="middle" font-weight="normal" stroke="#111" stroke-width="0.2">4350</text>
<rect x="86.3" y="414.85" width="11.9" height="29.5" fill="#fff"/>
<text x="92.9" y="433.9" font-size="11.6" fill="#111" stroke="#111" stroke-width="0.2" text-anchor="middle" transform="rotate(-90 92.9 429.6)">6350</text>
<rect x="422.4" y="366.75" width="11.9" height="29.5" fill="#fff"/>
<text x="429" y="385.8" font-size="11.6" fill="#111" stroke="#111" stroke-width="0.2" text-anchor="middle" transform="rotate(-90 429 381.5)">3980</text>
<rect x="420.9" y="491.25" width="11.9" height="29.5" fill="#fff"/>
<text x="427.5" y="510.3" font-size="11.6" fill="#111" stroke="#111" stroke-width="0.2" text-anchor="middle" transform="rotate(-90 427.5 506)">2000</text>
<rect x="410.1" y="528.9" width="11.9" height="22" fill="#fff"/>
<text x="416.7" y="544.2" font-size="11.6" fill="#111" stroke="#111" stroke-width="0.2" text-anchor="middle" transform="rotate(-90 416.7 539.9)">370</text>
<rect x="124.55" y="479" width="29.5" height="11.9" fill="#fff"/>
<text x="139.3" y="489.9" font-size="11.6" fill="#111" text-anchor="middle" font-weight="normal" stroke="#111" stroke-width="0.2">2930</text>
<rect x="203.9" y="479" width="22" height="11.9" fill="#fff"/>
<text x="214.9" y="489.9" font-size="11.6" fill="#111" text-anchor="middle" font-weight="normal" stroke="#111" stroke-width="0.2">800</text>
<rect x="287.65" y="479" width="29.5" height="11.9" fill="#fff"/>
<text x="302.4" y="489.9" font-size="11.6" fill="#111" text-anchor="middle" font-weight="normal" stroke="#111" stroke-width="0.2">3440</text>
<rect x="382" y="479" width="22" height="11.9" fill="#fff"/>
<text x="393" y="489.9" font-size="11.6" fill="#111" text-anchor="middle" font-weight="normal" stroke="#111" stroke-width="0.2">990</text>
<rect x="420.5" y="479" width="22" height="11.9" fill="#fff"/>
<text x="431.5" y="489.9" font-size="11.6" fill="#111" text-anchor="middle" font-weight="normal" stroke="#111" stroke-width="0.2">930</text>
<rect x="178.25" y="582.9" width="29.5" height="11.9" fill="#fff"/>
<text x="193" y="593.8" font-size="11.6" fill="#111" text-anchor="middle" font-weight="normal" stroke="#111" stroke-width="0.2">2820</text>
<rect x="170.2" y="594.8" width="11.9" height="22" fill="#fff"/>
<text x="176.8" y="610.1" font-size="11.6" fill="#111" stroke="#111" stroke-width="0.2" text-anchor="middle" transform="rotate(-90 176.8 605.8)">960</text>
<text x="910.7" y="289.3" font-size="11.6" fill="#111" stroke="#111" stroke-width="0.2" text-anchor="middle" transform="rotate(-90 910.7 285)">800</text>
<text x="733.2" y="429.8" font-size="11.6" fill="#111" stroke="#111" stroke-width="0.2" text-anchor="middle" transform="rotate(-90 733.2 425.5)">6040</text>
<text x="611.6" y="441.6" font-size="11.6" fill="#111" stroke="#111" stroke-width="0.2" text-anchor="middle" transform="rotate(-90 611.6 437.3)">1120</text>
<text x="610.5" y="507.2" font-size="11.6" fill="#111" stroke="#111" stroke-width="0.2" text-anchor="middle" transform="rotate(-90 610.5 502.9)">2080</text>
<text x="629.6" y="536.9" font-size="11.6" fill="#111" stroke="#111" stroke-width="0.2" text-anchor="middle" transform="rotate(-90 629.6 532.6)">150</text>
<text x="610.7" y="579.9" font-size="11.6" fill="#111" stroke="#111" stroke-width="0.2" text-anchor="middle" transform="rotate(-90 610.7 575.6)">1150</text>
<text x="610.7" y="626.1" font-size="11.6" fill="#111" stroke="#111" stroke-width="0.2" text-anchor="middle" transform="rotate(-90 610.7 621.8)">1120</text>
<circle cx="83.5" cy="309.7" r="6.2" stroke="#1a4a80" stroke-width="1.0" fill="none"/>
<text x="83.5" y="312.3" font-size="7" fill="#1a4a80" text-anchor="middle" font-weight="normal" >3</text>
<circle cx="307.4" cy="307.7" r="6.3" stroke="#1a4a80" stroke-width="1.0" fill="none"/>
<text x="307.4" y="310.3" font-size="7" fill="#1a4a80" text-anchor="middle" font-weight="normal" >2</text>
<circle cx="430.6" cy="307.9" r="6.3" stroke="#1a4a80" stroke-width="1.0" fill="none"/>
<text x="430.6" y="310.5" font-size="7" fill="#1a4a80" text-anchor="middle" font-weight="normal" >1</text>
<circle cx="369.8" cy="295.2" r="6.5" stroke="#1a4a80" stroke-width="1.0" fill="none"/>
<text x="369.8" y="297.8" font-size="7" fill="#1a4a80" text-anchor="middle" font-weight="normal" >7</text>
<circle cx="85" cy="550" r="5.6" stroke="#1a4a80" stroke-width="1.0" fill="none"/>
<text x="85" y="552.6" font-size="7" fill="#1a4a80" text-anchor="middle" font-weight="normal" >4</text>
<circle cx="241.9" cy="554.6" r="5.6" stroke="#1a4a80" stroke-width="1.0" fill="none"/>
<text x="241.9" y="557.2" font-size="7" fill="#1a4a80" text-anchor="middle" font-weight="normal" >5</text>
<circle cx="365.2" cy="554.6" r="6.3" stroke="#1a4a80" stroke-width="1.0" fill="none"/>
<text x="365.2" y="557.2" font-size="7" fill="#1a4a80" text-anchor="middle" font-weight="normal" >6</text>
<text x="187" y="419.9" font-size="11.4" fill="#123f72" text-anchor="start" font-weight="normal" stroke="#123f72" stroke-width="0.25">PLOCHA 63,70 m2</text>
</g>
<line x1="0" y1="704.5" x2="1036" y2="704.5" stroke="#f0f0f0" stroke-width="1.5"/>
</svg>
</body></html>
